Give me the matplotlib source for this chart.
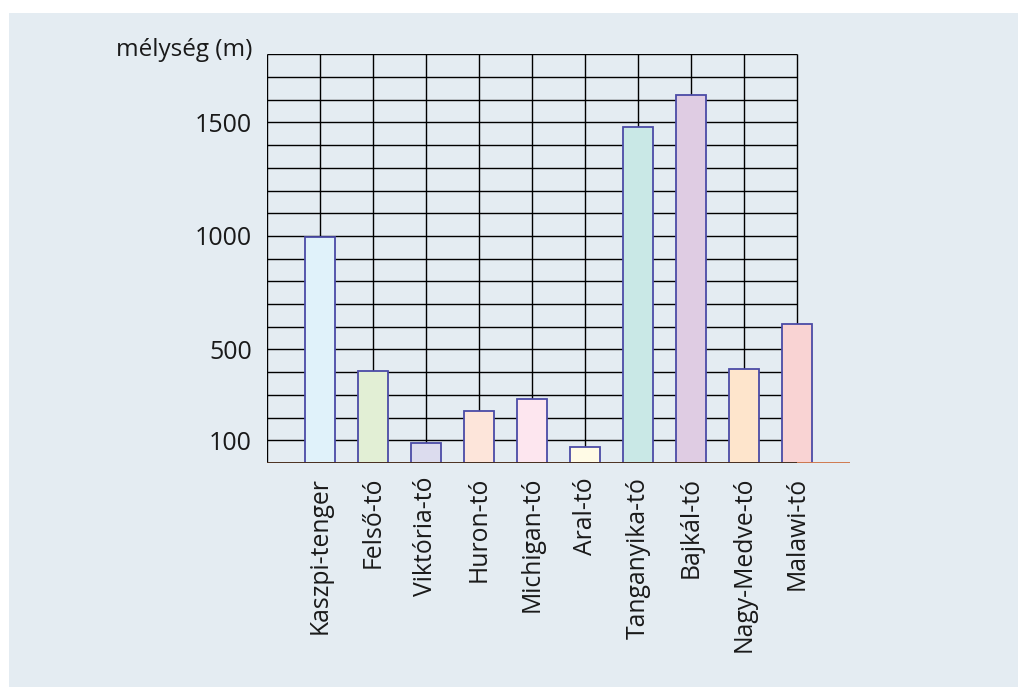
import matplotlib
matplotlib.use("Agg")
import matplotlib.pyplot as plt
from matplotlib.patches import Rectangle

lakes = ["Kaszpi-tenger", "Felső-tó", "Viktória-tó", "Huron-tó", "Michigan-tó",
         "Aral-tó", "Tanganyika-tó", "Bajkál-tó", "Nagy-Medve-tó", "Malawi-tó"]
depths = [995, 407, 87, 231, 282, 70, 1482, 1622, 413, 614]
bar_colors = ["#e0f2fa", "#e2efd5", "#dcdcee", "#fde5da", "#fde6ef",
              "#fffbe6", "#c9e8e6", "#dfcce3", "#fee5cc", "#f9d3d3"]
ytick_vals = [100, 500, 1000, 1500]
ylabel = "mélység (m)"

W, H = 1018, 687
fig = plt.figure(figsize=(W / 100, H / 100), dpi=100)
fig.patch.set_facecolor("white")
bg = "#e4ecf2"
fig.patches.append(Rectangle((9 / W, 0), 1 - 9 / W, 1 - 13 / H,
                             transform=fig.transFigure, facecolor=bg,
                             edgecolor="none", zorder=-10))

ax = fig.add_axes([267 / W, (H - 463) / H, 583 / W, (463 - 54.3) / H])
ax.set_facecolor("none")
ax.set_xlim(0, 11)
ax.set_ylim(0, 1800)
for s in ax.spines.values():
    s.set_visible(False)

n = len(lakes)
# grid
for xv in range(0, n + 1):
    ax.plot([xv, xv], [0, 1800], color="black", lw=1.0, zorder=1,
            solid_capstyle="butt")
for yv in range(100, 1801, 100):
    ax.plot([0, n], [yv, yv], color="black", lw=1.0, zorder=1,
            solid_capstyle="butt")

positions = list(range(1, n + 1))
ax.bar(positions, depths, width=0.575, color=bar_colors,
       edgecolor="#4b4ba6", linewidth=1.3, zorder=3)

# baseline
ax.plot([0, n], [0, 0], color="#4a3020", lw=1.4, zorder=4, solid_capstyle="butt")
ax.plot([n, 11], [0, 0], color="#d07a50", lw=1.4, zorder=4, solid_capstyle="butt")

font = "Open Sans"
ax.set_yticks(ytick_vals)
ax.set_yticklabels([str(v) for v in ytick_vals], fontsize=18, family=font,
                   color="#1a1a1a")
ax.set_xticks(positions)
ax.set_xticklabels(lakes, rotation=90, fontsize=17.8, family=font, color="#1a1a1a")
ax.tick_params(axis="y", length=0, pad=11)
ax.tick_params(axis="x", length=0, pad=10)

fig.text(252 / W, 1 - 50 / H, ylabel, ha="right", va="center", fontsize=17.5,
         family=font, color="#1a1a1a")

fig.savefig("out.png", dpi=100, facecolor=fig.get_facecolor())
